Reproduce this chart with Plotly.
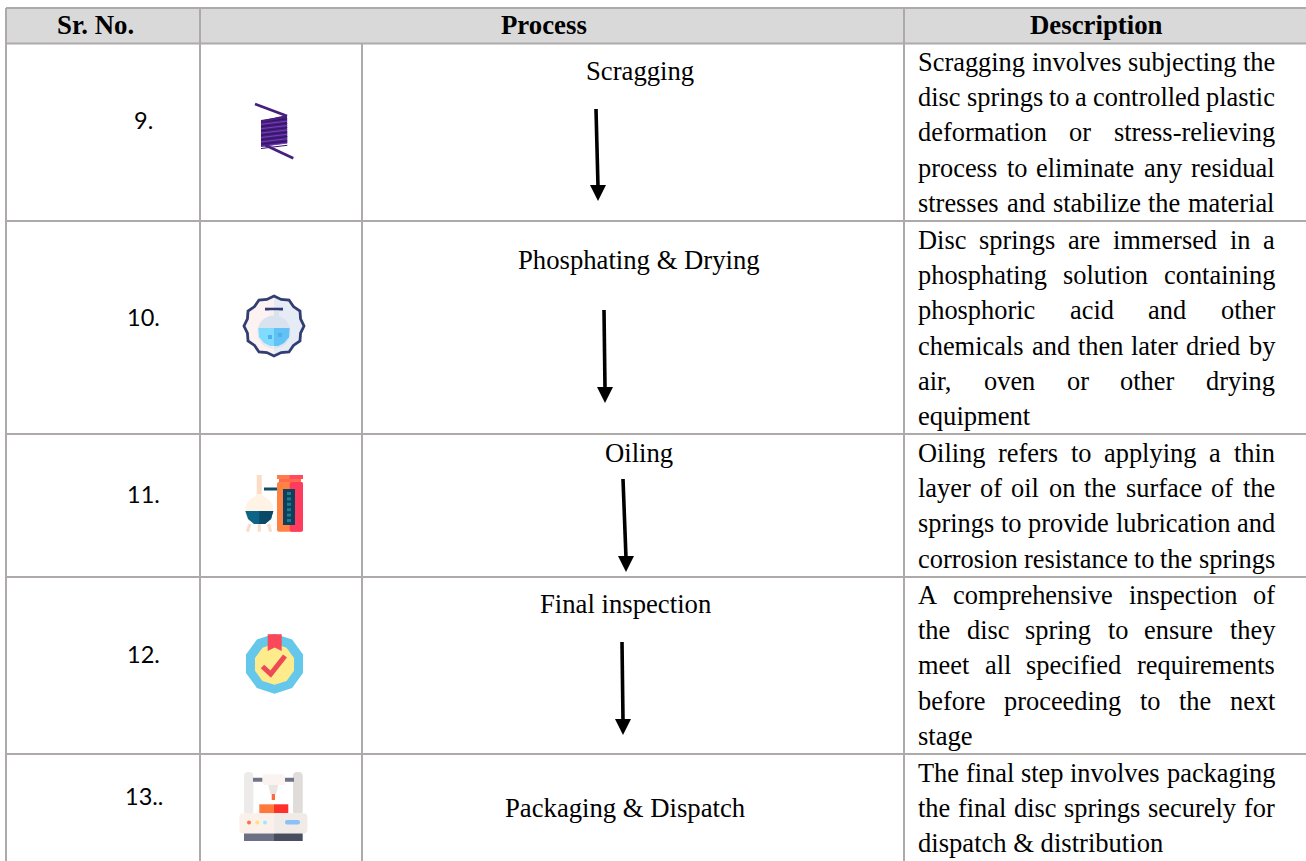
import math
import plotly.graph_objects as go

# ---------- content ----------
headers = ["Sr. No.", "Process", "Description"]
sr_numbers = ["9.", "10.", "11.", "12.", "13.."]
processes = ["Scragging", "Phosphating & Drying", "Oiling", "Final inspection", "Packaging & Dispatch"]
desc_scragging = ["Scragging involves subjecting the", "disc springs to a controlled plastic",
                  "deformation or stress-relieving", "process to eliminate any residual",
                  "stresses and stabilize the material"]
desc_phosphating = ["Disc springs are immersed in a", "phosphating solution containing",
                    "phosphoric acid and other", "chemicals and then later dried by",
                    "air, oven or other drying", "equipment"]
desc_oiling = ["Oiling refers to applying a thin", "layer of oil on the surface of the",
               "springs to provide lubrication and", "corrosion resistance to the springs"]
desc_inspection = ["A comprehensive inspection of", "the disc spring to ensure they",
                   "meet all specified requirements", "before proceeding to the next", "stage"]
desc_packaging = ["The final step involves packaging", "the final disc springs securely for",
                  "dispatch & distribution"]
descriptions = [desc_scragging, desc_phosphating, desc_oiling, desc_inspection, desc_packaging]

# ---------- page geometry ----------
W, H = 1306, 861
X_LEFT, X_SR, X_ICON, X_DESC = 6, 200, 362, 904
Y_TOP, Y_HEAD = 8, 43.5
ROW_BOTTOMS = [221, 434, 577, 754]
GRID = "#aeaaaa"
SERIF = "Liberation Serif"
FS = 26.4
PROC_FS = 26.7
HEAD_FS = 26.8
LINE = 35.2
TEXT_L, TEXT_R = 918, 1275
FIRST_LINE = [62, 240, 453, 595, 773]
SR_Y = [119.5, 317, 494, 654, 796]
PROC_POS = [(640, 71), (639, 260), (639, 453), (625.5, 604), (625, 808)]
ARROWS = [((596, 109), (598, 201)), ((604, 310), (605, 403)),
          ((623, 479), (626, 572)), ((622, 642), (623, 735))]

TIMES = dict(a=444, b=500, c=444, d=500, e=444, f=333, g=500, h=500, i=278, j=278, k=500, l=278, m=778,
             n=500, o=500, p=500, q=500, r=333, s=389, t=278, u=500, v=500, w=722, x=500, y=500, z=444,
             A=722, D=722, O=722, S=556, T=611)
TIMES.update({"&": 778, ",": 250, "-": 333, ".": 250, " ": 250})


def text_w(s):
    return sum(TIMES.get(c, 500) for c in s) * FS / 1000


shapes, ann = [], []


def add_text(x, y, s, size=FS, font=SERIF, anchor="center", bold=False):
    ann.append(dict(x=x, y=y, xref="x", yref="y", text=f"<b>{s}</b>" if bold else s, showarrow=False,
                    xanchor=anchor, yanchor="middle", borderpad=0, borderwidth=0,
                    font=dict(family=font, size=size, color="#000000")))


def rect(x0, y0, x1, y1, fill, r=0):
    if r:
        p = (f"M{x0+r},{y0} L{x1-r},{y0} Q{x1},{y0} {x1},{y0+r} L{x1},{y1-r} Q{x1},{y1} {x1-r},{y1} "
             f"L{x0+r},{y1} Q{x0},{y1} {x0},{y1-r} L{x0},{y0+r} Q{x0},{y0} {x0+r},{y0} Z")
        shapes.append(dict(type="path", path=p, fillcolor=fill, line_width=0, xref="x", yref="y"))
    else:
        shapes.append(dict(type="rect", x0=x0, y0=y0, x1=x1, y1=y1, fillcolor=fill, line_width=0, xref="x", yref="y"))


def seg(x0, y0, x1, y1, color=GRID, w=2):
    shapes.append(dict(type="line", x0=x0, y0=y0, x1=x1, y1=y1, line=dict(color=color, width=w), xref="x", yref="y"))


def poly(pts, fill, line=None, w=0):
    p = "M" + " L".join(f"{x:.2f},{y:.2f}" for x, y in pts) + " Z"
    d = dict(type="path", path=p, fillcolor=fill, xref="x", yref="y")
    d["line"] = dict(color=line, width=w) if line else dict(width=0)
    shapes.append(d)


def circle(cx, cy, r, fill):
    shapes.append(dict(type="circle", x0=cx-r, x1=cx+r, y0=cy-r, y1=cy+r, fillcolor=fill, line_width=0, xref="x", yref="y"))


def ring(cx, cy, n, r1, r2=None, start=-90):
    out = []
    for i in range(n * (2 if r2 else 1)):
        rr = (r2 if i % 2 else r1) if r2 else r1
        a = math.radians(start + i * 360 / (n * (2 if r2 else 1)))
        out.append((cx + rr * math.cos(a), cy + rr * math.sin(a)))
    return out


# ---------- table frame ----------
rect(X_LEFT, Y_TOP, W, Y_HEAD, "#d9d9d9")
seg(X_LEFT, Y_TOP, W, Y_TOP)
seg(X_LEFT, Y_HEAD, W, Y_HEAD)
for y in ROW_BOTTOMS:
    seg(X_LEFT, y, W, y)
for x in (X_LEFT, X_SR, X_DESC):
    seg(x, Y_TOP, x, H)
seg(X_ICON, Y_HEAD, X_ICON, H)

add_text(95, 24.5, headers[0], bold=True, size=HEAD_FS)
add_text(544, 24.5, headers[1], bold=True, size=HEAD_FS)
add_text(1096.5, 24.5, headers[2], bold=True, size=HEAD_FS)

# ---------- rows ----------
for s, y in zip(sr_numbers, SR_Y):
    add_text(143.5, y, s, size=23.5, font="Lato")
for s, (x, y) in zip(processes, PROC_POS):
    add_text(x, y, s, size=PROC_FS)
for lines, y0 in zip(descriptions, FIRST_LINE):
    for i, line in enumerate(lines):
        y = y0 + i * LINE
        natural = text_w(line)
        # short closing lines keep natural spacing, full lines are justified to the column
        if i == len(lines) - 1 and natural < 0.9 * (TEXT_R - TEXT_L):
            add_text(TEXT_L, y, line, size=26.6, anchor="left")
            continue
        words = line.split(" ")
        gap = (TEXT_R - TEXT_L - sum(text_w(w) for w in words)) / (len(words) - 1)
        x = TEXT_L
        for w in words:
            add_text(x, y, w, anchor="left")
            x += text_w(w) + gap

# ---------- arrows ----------
for (x0, y0), (x1, y1) in ARROWS:
    seg(x0, y0, x1, y1 - 14, "#000000", 3.6)
    poly([(x1 - 8, y1 - 16), (x1 + 8, y1 - 16), (x1, y1)], "#000000")

# ---------- icons ----------
# spring
poly([(261, 120), (287, 116), (287.3, 143), (261, 147)], "#47207f")
for k in range(13):
    yy = 120.5 + k * 2.2
    seg(261, yy + 1.6, 287.3, yy - 1.6, "#7a3cc0" if k % 2 else "#2f1560", 1.0)
seg(255, 104, 287, 116, "#46207e", 2.8)
seg(287, 116, 262, 121.5, "#46207e", 2.2)
seg(265, 145, 293.3, 158.3, "#46207e", 2.8)

# flask badge
badge = ring(274, 326, 12, 30, 27.5)
poly([p for p in badge if p[0] >= 273.9], "#e6ecf5")
poly([p for p in badge if p[0] <= 274.1], "#fdf2f2")
poly(badge, "rgba(0,0,0,0)", "#323e72", 2.8)
rect(265, 307.7, 283, 310.5, "#323e72")
rect(269, 310.5, 274, 322, "#fbeef0")
rect(274, 310.5, 279, 322, "#d9e2ef")
circle(274, 332, 16.5, "#d9e2ef")
poly([(257.5, 332), (274, 332), (274, 348.5), (266, 346), (260, 340)], "#f4eaf0")
poly([(258.5, 328), (289.5, 328), (289, 337), (284, 343), (278, 346), (270, 346), (264, 343), (259, 337)], "#7fdcff")
poly([(274, 328), (289.5, 328), (289, 337), (284, 343), (278, 346), (274, 346)], "#63c2f5")
rect(268, 335, 272, 339, "#4bb2ee")
rect(278, 333, 282, 337, "#4bb2ee")

# oil still
for xa, xb in ((250, 247.3), (259.3, 259.3), (268.3, 270.7)):
    seg(xa, 524, xb, 531.7, "#fbdcc6", 3)
rect(256.7, 475, 261.7, 500, "#fbdcc6")
poly([(256.7, 494), (261.7, 494), (273.3, 511), (245.3, 511)], "#fff3e6")
circle(259.3, 510, 14, "#fff3e6")
poly([(245.3, 511), (273.3, 511), (271, 519), (265, 524), (254, 524), (248, 519)], "#0e6486")
poly([(259.3, 511), (273.3, 511), (271, 519), (265, 524), (259.3, 524)], "#0a4a68")
rect(264, 487.5, 280, 490.5, "#0e4f6e")
rect(277, 482, 303, 531.7, "#ff8243", r=2)
rect(289.7, 482, 303, 531.7, "#ff3c5e", r=2)
rect(277, 475, 303, 479, "#ff7a4c")
rect(289.7, 475, 303, 479, "#ff4a62")
rect(279, 479, 301, 482, "#ff6a4c")
rect(283, 489, 295, 525, "#0e3f5c")
for k in range(6):
    rect(287, 492 + k * 5.4, 291, 495 + k * 5.4, "#1b7f8f")

# medal
poly(ring(274.5, 663.8, 10, 30), "#65c8ea")
poly(ring(274.5, 664.3, 10, 20.5), "#fdeb8c")
poly([(267.7, 634.3), (281.7, 634.3), (281.7, 651), (274.7, 647.5), (267.7, 651)], "#f9485a")
shapes.append(dict(type="path", path="M262.5,666.5 L270.7,674 L285,656", line=dict(color="#ee4a55", width=5),
                   fillcolor="rgba(0,0,0,0)", xref="x", yref="y"))

# printer
rect(244, 772, 253.3, 815, "#ecebe9", r=4)
rect(293, 772, 302.7, 815, "#dfdcd9", r=4)
rect(253, 777.7, 294, 781.7, "#70738a")
rect(262.3, 774.3, 285, 785, "#faf3ef", r=3)
poly([(268.3, 785), (278.3, 785), (276, 794.3), (270.5, 794.3)], "#e9e5e2")
rect(271.7, 794, 275, 800, "#ff6a3c")
rect(259.3, 804.3, 274, 813.3, "#ff7a3a")
rect(274, 804.3, 288.3, 813.3, "#ff2f2a")
rect(239.3, 813.3, 307.3, 833.5, "#fbf1ea", r=4)
rect(274, 813.3, 307.3, 833.5, "#f1ebe7", r=4)
circle(249, 822.5, 2, "#ff7043")
circle(257.3, 822.5, 2, "#ffe27a")
circle(265, 822.5, 2, "#9be8ff")
rect(285, 820, 300, 824.5, "#8cc0f8", r=2)
rect(244, 833.5, 274, 841, "#6d6f85")
rect(274, 833.5, 302.7, 841, "#4a4c60")

fig = go.Figure()
fig.update_layout(width=W, height=H, margin=dict(l=0, r=0, t=0, b=0), paper_bgcolor="white", plot_bgcolor="white",
                  xaxis=dict(range=[0, W], visible=False, fixedrange=True),
                  yaxis=dict(range=[H, 0], visible=False, fixedrange=True),
                  shapes=shapes, annotations=ann, showlegend=False)
fig.write_html("out.html", config={"displayModeBar": False},
               post_script="document.body.style.margin='0';document.body.style.overflow='hidden';")
